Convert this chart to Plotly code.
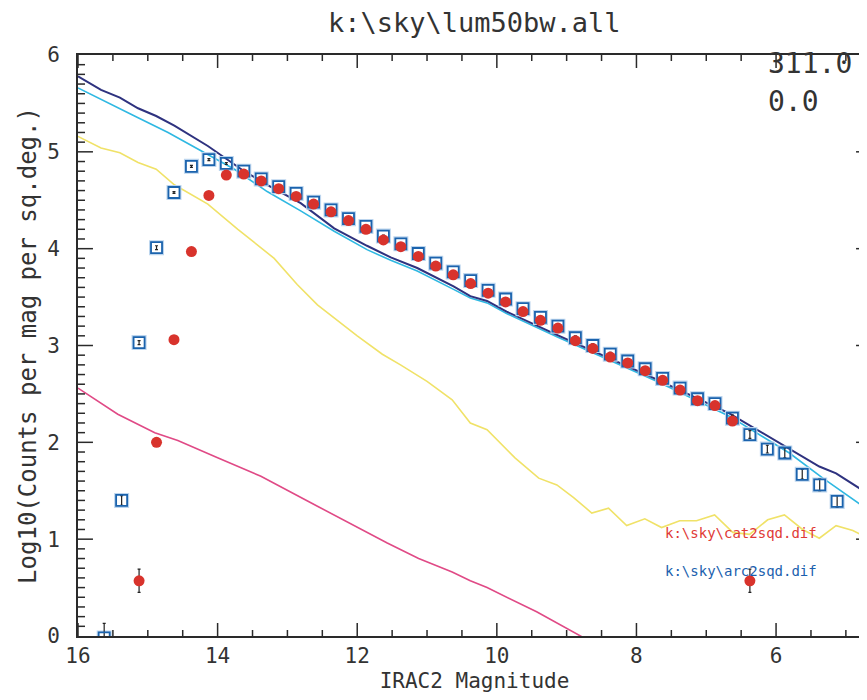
import plotly.graph_objects as go

# ---- data ----
bin_mag = [15.625, 15.375, 15.125, 14.875, 14.625, 14.375, 14.125, 13.875, 13.625, 13.375,
           13.125, 12.875, 12.625, 12.375, 12.125, 11.875, 11.625, 11.375, 11.125, 10.875,
           10.625, 10.375, 10.125, 9.875, 9.625, 9.375, 9.125, 8.875, 8.625, 8.375,
           8.125, 7.875, 7.625, 7.375, 7.125, 6.875, 6.625, 6.375, 6.125, 5.875,
           5.625, 5.375, 5.125]
arc_logn = [-0.02, 1.40, 3.03, 4.01, 4.58, 4.85, 4.92, 4.88, 4.80, 4.72,
            4.64, 4.57, 4.48, 4.40, 4.31, 4.23, 4.13, 4.05, 3.95, 3.85,
            3.76, 3.67, 3.57, 3.48, 3.38, 3.29, 3.20, 3.08, 3.00, 2.91,
            2.84, 2.76, 2.66, 2.56, 2.45, 2.40, 2.25, 2.08, 1.93, 1.89,
            1.67, 1.56, 1.39]
arc_err = [0.15, 0.05, 0.02, 0.02, 0.01, 0.01, 0.01, 0.01, 0.01, 0.01,
           0.01, 0.01, 0.01, 0.01, 0.01, 0.01, 0.01, 0.01, 0.01, 0.01,
           0.01, 0.01, 0.01, 0.01, 0.01, 0.01, 0.01, 0.02, 0.02, 0.02,
           0.02, 0.02, 0.02, 0.02, 0.02, 0.02, 0.03, 0.04, 0.04, 0.05,
           0.05, 0.06, 0.06]

cat_mag = [15.125, 14.875, 14.625, 14.375, 14.125, 13.875, 13.625, 13.375, 13.125, 12.875,
           12.625, 12.375, 12.125, 11.875, 11.625, 11.375, 11.125, 10.875, 10.625, 10.375,
           10.125, 9.875, 9.625, 9.375, 9.125, 8.875, 8.625, 8.375, 8.125, 7.875,
           7.625, 7.375, 7.125, 6.875, 6.625, 6.375]
cat_logn = [0.57, 2.00, 3.06, 3.97, 4.55, 4.76, 4.77, 4.70, 4.62, 4.54,
            4.46, 4.38, 4.29, 4.20, 4.09, 4.02, 3.92, 3.82, 3.73, 3.64,
            3.54, 3.45, 3.35, 3.26, 3.18, 3.05, 2.97, 2.88, 2.82, 2.74,
            2.64, 2.54, 2.43, 2.38, 2.22, 0.57]
cat_err = [0.12, 0.04, 0.02, 0.01, 0.01, 0.01, 0.01, 0.01, 0.01, 0.01,
           0.01, 0.01, 0.01, 0.01, 0.01, 0.01, 0.01, 0.01, 0.01, 0.01,
           0.01, 0.01, 0.01, 0.01, 0.01, 0.01, 0.02, 0.02, 0.02, 0.02,
           0.02, 0.02, 0.02, 0.02, 0.03, 0.12]

navy_mag = [16.0, 15.67, 15.40, 15.14, 14.88, 14.62, 14.14, 13.86, 13.62, 13.29,
            12.81, 12.33, 11.86, 11.52, 11.14, 10.62, 10.38, 10.14, 9.86, 9.14,
            7.71, 6.67, 5.86, 5.38, 5.14, 4.60]
navy_logn = [5.78, 5.64, 5.56, 5.45, 5.37, 5.27, 5.06, 4.92, 4.80, 4.66,
             4.47, 4.21, 4.03, 3.91, 3.80, 3.61, 3.51, 3.46, 3.35, 3.11,
             2.65, 2.30, 1.96, 1.75, 1.68, 1.43]

cyan_mag = [16.0, 15.67, 15.19, 14.71, 14.24, 13.76, 13.29, 12.81, 12.33, 11.86,
            11.52, 11.14, 10.62, 10.38, 10.14, 9.86, 9.14, 7.71, 6.67, 5.81,
            5.33, 4.60]
cyan_logn = [5.66, 5.54, 5.37, 5.20, 5.01, 4.82, 4.59, 4.39, 4.18, 3.99,
             3.88, 3.77, 3.58, 3.49, 3.44, 3.33, 3.09, 2.63, 2.27, 1.89,
             1.63, 1.26]

yellow_mag = [16.0, 15.67, 15.40, 15.14, 14.88, 14.62, 14.14, 13.71, 13.19, 12.86,
              12.57, 12.00, 11.64, 11.38, 11.00, 10.64, 10.38, 10.14, 9.74, 9.40,
              9.14, 8.90, 8.64, 8.40, 8.14, 7.88, 7.64, 7.38, 7.14, 6.88,
              6.62, 6.38, 6.12, 5.88, 5.62, 5.38, 5.14, 4.90, 4.60]
yellow_logn = [5.16, 5.04, 4.99, 4.89, 4.82, 4.66, 4.46, 4.20, 3.90, 3.63,
               3.42, 3.10, 2.91, 2.80, 2.63, 2.44, 2.20, 2.13, 1.84, 1.63,
               1.56, 1.43, 1.27, 1.32, 1.14, 1.21, 1.12, 1.19, 1.19, 1.25,
               1.07, 1.05, 1.20, 1.25, 1.10, 1.01, 1.14, 1.09, 0.98]

pink_mag = [16.0, 15.43, 14.90, 14.57, 14.00, 13.38, 12.57, 11.57, 11.12, 10.64,
            10.38, 10.14, 9.43, 8.55]
pink_logn = [2.56, 2.29, 2.10, 2.02, 1.84, 1.65, 1.34, 0.96, 0.80, 0.66,
             0.57, 0.50, 0.25, -0.10]

x_range = [16, 4.64]
y_range = [0, 6]
x_tick_labels = [16, 14, 12, 10, 8, 6]
y_tick_labels = [0, 1, 2, 3, 4, 5, 6]
x_minor_step = 0.5
y_minor_step = 0.1

title_text = r"k:\sky\lum50bw.all"
cat_label = r"k:\sky\cat2sqd.dif"
arc_label = r"k:\sky\arc2sqd.dif"
corner_lines = ["311.0", "0.0"]

FONT = "DejaVu Sans Mono, DejaVu Sans"
TXT = "#333333"
AX = "#2a2a2a"

W_PX, H_PX = 867 - 70 - 2, 700 - 47 - 72
x_per_px = (x_range[0] - x_range[1]) / W_PX
y_per_px = (y_range[1] - y_range[0]) / H_PX

fig = go.Figure()
fig.add_trace(go.Scatter(x=yellow_mag, y=yellow_logn, mode="lines",
                         line=dict(color="#f0e268", width=1.6), showlegend=False))
fig.add_trace(go.Scatter(x=pink_mag, y=pink_logn, mode="lines",
                         line=dict(color="#e04a86", width=1.6), showlegend=False))
fig.add_trace(go.Scatter(x=cyan_mag, y=cyan_logn, mode="lines",
                         line=dict(color="#2fb8e2", width=1.6), showlegend=False))
fig.add_trace(go.Scatter(x=navy_mag, y=navy_logn, mode="lines",
                         line=dict(color="#2e327f", width=2.0), showlegend=False))
fig.add_trace(go.Scatter(x=bin_mag, y=arc_logn, mode="markers",
                         marker=dict(symbol="square-open", size=13, color="#bcd5ee",
                                     line=dict(width=2, color="#bcd5ee")),
                         showlegend=False, hoverinfo="skip"))
fig.add_trace(go.Scatter(x=bin_mag, y=arc_logn, mode="markers",
                         marker=dict(symbol="square-open", size=11, color="#1b63ad",
                                     line=dict(width=1.8, color="#1b63ad")),
                         error_y=dict(type="data", array=arc_err, color="#222222",
                                      thickness=1.2, width=1.5),
                         showlegend=False))
fig.add_trace(go.Scatter(x=cat_mag, y=cat_logn, mode="markers",
                         marker=dict(symbol="circle", size=11, color="#d8332c",
                                     line=dict(width=0)),
                         error_y=dict(type="data", array=cat_err, color="#222222",
                                      thickness=1.2, width=1.5),
                         showlegend=False))

# ---- frame and inward ticks on all four sides (IDL style) ----
fx, fy = [], []
n_x = int(round((x_range[0] - 5.0) / x_minor_step))
for i in range(n_x + 1):
    v = x_range[0] - i * x_minor_step
    ln = (13 if abs(v / 2 - round(v / 2)) < 1e-9 else 6) * y_per_px
    fx += [v, v, None, v, v, None]
    fy += [y_range[0], y_range[0] + ln, None, y_range[1], y_range[1] - ln, None]
n_y = int(round((y_range[1] - y_range[0]) / y_minor_step))
for i in range(1, n_y):
    v = y_range[0] + i * y_minor_step
    ln = (15 if i % 10 == 0 else 7) * x_per_px
    fx += [x_range[0], x_range[0] - ln, None, x_range[1], x_range[1] + ln, None]
    fy += [v, v, None, v, v, None]
fig.add_trace(go.Scatter(x=fx, y=fy, mode="lines", line=dict(color=AX, width=1.5),
                         cliponaxis=False, connectgaps=False, showlegend=False,
                         hoverinfo="skip"))

fig.update_xaxes(range=x_range, tickmode="array", tickvals=x_tick_labels,
                 ticks="", showline=True, linecolor=AX, linewidth=2, mirror=True,
                 showgrid=False, zeroline=False,
                 tickfont=dict(family=FONT, size=21, color=TXT),
                 title=dict(text="IRAC2 Magnitude", font=dict(family=FONT, size=21, color=TXT),
                            standoff=6))
fig.update_yaxes(range=y_range, tickmode="array", tickvals=y_tick_labels,
                 ticks="", showline=True, linecolor=AX, linewidth=2, mirror=True,
                 showgrid=False, zeroline=False, ticklabelstandoff=12,
                 tickfont=dict(family=FONT, size=21, color=TXT),
                 title=dict(text="Log10(Counts per mag per sq.deg.)",
                            font=dict(family=FONT, size=24, color=TXT), standoff=4))

annotations = [
    dict(text=title_text, x=0.5, y=1.0, xref="paper", yref="paper", yanchor="bottom",
         yshift=15, showarrow=False, font=dict(family=FONT, size=27, color=TXT)),
    dict(text=corner_lines[0], x=0.867, y=1.0, xref="paper", yref="paper",
         xanchor="left", yanchor="top", yshift=10, showarrow=False,
         font=dict(family=FONT, size=28, color=TXT)),
    dict(text=corner_lines[1], x=0.867, y=0.935, xref="paper", yref="paper",
         xanchor="left", yanchor="top", yshift=10, showarrow=False,
         font=dict(family=FONT, size=28, color=TXT)),
    dict(text=cat_label, x=0.738, y=0.178, xref="paper", yref="paper",
         xanchor="left", yanchor="middle", showarrow=False,
         font=dict(family=FONT, size=14, color="#e03a36")),
    dict(text=arc_label, x=0.738, y=0.112, xref="paper", yref="paper",
         xanchor="left", yanchor="middle", showarrow=False,
         font=dict(family=FONT, size=14, color="#1b5fae")),
]

fig.update_layout(width=867, height=700, margin=dict(l=70, r=2, t=47, b=72),
                  plot_bgcolor="white", paper_bgcolor="white",
                  annotations=annotations, showlegend=False)

fig.write_html("out.html")
